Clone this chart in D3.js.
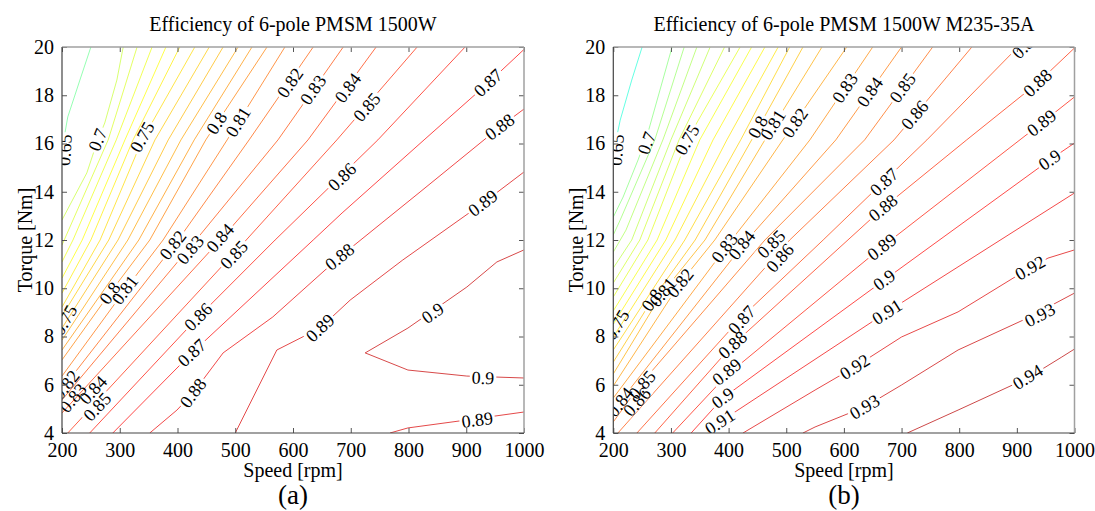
<!DOCTYPE html>
<html>
<head>
<meta charset="utf-8">
<script src="https://cdn.jsdelivr.net/npm/d3@7"></script>
<style>
  body { margin: 0; background: #fff; }
  svg text { font-family: "Liberation Serif", "Times New Roman", serif !important; fill: #000; }
</style>
</head>
<body>
<svg id="chart" width="1095" height="511"></svg>
<script>
// axis ticks
const speedTicks = [200, 300, 400, 500, 600, 700, 800, 900, 1000];
const torqueTicks = [4, 6, 8, 10, 12, 14, 16, 18, 20];

// panel (a): contour lines [level, [[speed, torque], ...]]
const linesA = [
  [0.65, [[250,20],[231,18.63],[210,17.10],[203,16.15],[200,15.11]]],
  [0.70, [[306,20],[295,18.63],[274,16.85],[262,16.15],[243,14.78],[200,12.83]]],
  [0.71, [[330,20],[280,16.15],[200,11.79]]],
  [0.72, [[356,20],[294,16.15],[219,12.0],[200,11.09]]],
  [0.73, [[380,20],[309,16.15],[235,12.0],[200,10.42]]],
  [0.74, [[404,20],[323,16.15],[250,12.0],[200,9.80]]],
  [0.75, [[430,20],[339,16.15],[266,12.0],[200,9.22]]],
  [0.76, [[455,20],[361,16.15],[281,12.0],[200,8.85]]],
  [0.77, [[479,20],[384,16.15],[297,12.0],[200,8.35]]],
  [0.78, [[505,20],[406,16.15],[314,12.0],[200,7.85]]],
  [0.79, [[529,20],[429,16.15],[333,12.0],[200,7.44]]],
  [0.80, [[555,20],[449,16.15],[352,12.0],[283,9.80],[200,7.03]]],
  [0.81, [[586,20],[486,16.15],[375,12.0],[309,9.93],[200,6.36]]],
  [0.82, [[635,20],[524,16.15],[401,12.0],[200,5.82]]],
  [0.83, [[687,20],[574,16.15],[432,12.0],[200,5.37]]],
  [0.84, [[744,20],[626,16.15],[474,12.0],[200,4.83]]],
  [0.85, [[815,20],[676,16.15],[519,12.0],[210,4.0]]],
  [0.86, [[898,20],[747,16.15],[569,12.0],[436,8.81],[248,4.0]]],
  [0.87, [[1000,19.9],[938,18.51],[827,16.15],[685,13.12],[635,12.0],[425,7.32],[288,4.0]]],
  [0.88, [[1000,17.43],[958,16.68],[820,13.99],[681,11.30],[565,8.81],[479,7.32],[427,5.66],[399,4.95],[352,4.0]]],
  [0.89, [[1000,14.82],[929,13.53],[790,11.17],[699,9.51],[647,8.35],[572,7.44],[500,4.0]]],
  [0.89, [[768,4.0],[799,4.21],[901,4.54],[1000,4.87]]],
  [0.90, [[1000,11.59],[953,11.09],[901,10.05],[799,8.35],[725,7.32],[799,6.61],[901,6.36],[1000,6.28]]]
];
// panel (a): inline labels [level, speed, torque]
const labelsA = [
  [0.65,205,15.73],[0.7,262,16.15],[0.75,339,16.27],[0.75,205,8.68],
  [0.8,468,16.85],[0.81,505,16.89],[0.82,595,18.51],[0.83,635,18.22],
  [0.84,695,18.30],[0.85,728,17.51],[0.86,685,14.61],[0.87,938,18.51],
  [0.88,958,16.68],[0.89,929,13.53],[0.82,392,11.79],[0.83,422,11.59],
  [0.84,474,12.08],[0.85,498,11.38],[0.8,283,9.80],[0.81,309,9.93],
  [0.86,436,8.81],[0.87,425,7.32],[0.88,427,5.66],[0.88,681,11.30],
  [0.89,647,8.35],[0.9,842,8.97],[0.9,929,6.28],[0.89,919,4.54],
  [0.84,254,5.78],[0.85,261,5.08],[0.82,207,5.99],[0.83,219,5.45]
];

// panel (b)
const linesB = [
  [0.65, [[250,20],[232,18.63],[212,16.97],[203,15.94],[200,15.11]]],
  [0.70, [[302,20],[281,18.22],[260,16.44],[243,15.32],[217,13.78],[200,12.95]]],
  [0.71, [[323,20],[272,16.15],[212,12.83],[200,12.21]]],
  [0.72, [[345,20],[286,16.15],[222,12.41],[200,11.50]]],
  [0.73, [[368,20],[300,16.15],[232,12.0],[200,10.84]]],
  [0.74, [[393,20],[314,16.15],[246,12.0],[200,10.22]]],
  [0.75, [[420,20],[328,16.15],[260,12.0],[200,9.64]]],
  [0.76, [[440,20],[350,16.15],[276,12.0],[200,9.06]]],
  [0.77, [[463,20],[373,16.15],[291,12.0],[200,8.52]]],
  [0.78, [[486,20],[397,16.15],[307,12.0],[200,7.98]]],
  [0.79, [[506,20],[421,16.15],[324,12.0],[200,7.44]]],
  [0.80, [[529,20],[440,16.15],[342,12.0],[267,9.51],[200,6.94]]],
  [0.81, [[562,20],[463,16.15],[359,12.0],[286,9.84],[200,6.45]]],
  [0.82, [[605,20],[494,16.15],[376,12.0],[316,10.22],[200,5.95]]],
  [0.83, [[650,20],[541,16.15],[405,12.0],[200,5.45]]],
  [0.84, [[700,20],[586,16.15],[432,12.0],[200,4.95]]],
  [0.85, [[754,20],[636,16.15],[463,12.0],[246,5.99],[200,4.46]]],
  [0.86, [[822,20],[687,16.15],[506,12.0],[208,4.0]]],
  [0.87, [[902,20],[744,16.15],[564,12.0],[423,8.81],[241,4.0]]],
  [0.88, [[1000,19.96],[936,18.51],[813,16.15],[668,13.33],[407,7.65],[272,4.0]]],
  [0.89, [[1000,17.93],[943,16.85],[666,11.71],[397,6.40],[303,4.0]]],
  [0.90, [[1000,16.02],[957,15.32],[670,10.34],[390,5.45],[335,4.0]]],
  [0.91, [[1000,13.95],[675,9.02],[385,4.46],[368,4.0]]],
  [0.92, [[1000,11.59],[954,11.25],[897,10.47],[798,9.02],[700,7.98],[619,6.74],[550,5.78],[425,4.0]]],
  [0.93, [[1000,9.80],[919,8.77],[798,7.44],[700,5.99],[636,5.08],[550,4.25],[529,4.0]]],
  [0.94, [[1000,7.48],[978,7.15],[919,6.28],[798,4.95],[710,4.0]]]
];
const labelsB = [
  [0.65,206,15.73],[0.7,258,16.02],[0.75,328,16.15],[0.75,206,8.48],
  [0.8,451,16.68],[0.81,477,16.77],[0.82,515,16.85],[0.83,602,18.30],
  [0.84,645,18.13],[0.85,702,18.30],[0.86,723,17.18],[0.87,916,20.1],
  [0.88,936,18.51],[0.89,943,16.85],[0.9,957,15.32],[0.87,670,14.40],
  [0.88,668,13.33],[0.89,666,11.71],[0.92,923,10.84],[0.9,670,10.34],
  [0.91,675,9.02],[0.93,940,8.89],[0.92,619,6.74],[0.94,919,6.32],
  [0.93,636,5.08],[0.8,267,9.51],[0.81,286,9.84],[0.82,316,10.22],
  [0.83,393,11.67],[0.84,423,11.79],[0.85,474,11.83],[0.86,489,11.25],
  [0.87,423,8.68],[0.88,407,7.65],[0.89,397,6.53],[0.9,390,5.45],
  [0.91,385,4.46],[0.84,212,5.28],[0.85,250,5.99],[0.86,241,5.28]
];

// colour limits of the colormap for each panel
const colorDomainA = [0.383, 0.939];
const colorDomainB = [0.425, 0.970];

const svg = d3.select("#chart");
const defs = svg.append("defs");

function jet(p) {
  const c = v => Math.max(0, Math.min(1, v));
  const r = c(Math.min(4 * p - 1.5, -4 * p + 4.5));
  const g = c(Math.min(4 * p - 0.5, -4 * p + 3.5));
  const b = c(Math.min(4 * p + 0.5, -4 * p + 2.5));
  return d3.rgb(r * 255, g * 255, b * 255).formatHex();
}

function drawPanel(id, left, right, lines, labels, cDomain, title, tag) {
  const top = 47, bottom = 433;
  const x = d3.scaleLinear().domain([200, 1000]).range([left, right]);
  const y = d3.scaleLinear().domain([4, 20]).range([bottom, top]);
  const color = lv => jet((lv - cDomain[0]) / (cDomain[1] - cDomain[0]));
  const path = d3.line().x(d => x(d[0])).y(d => y(d[1]));

  defs.append("clipPath").attr("id", "clip-" + id)
    .append("rect").attr("x", left).attr("y", top)
    .attr("width", right - left).attr("height", bottom - top);

  const plot = svg.append("g").attr("clip-path", `url(#clip-${id})`);
  const lineG = plot.append("g");
  const labelG = plot.append("g");

  // label placement: angle from nearest segment of same level
  const labs = labels.map(([lv, s, t]) => {
    const px = x(s), py = y(t);
    let best = Infinity, ang = 0;
    lines.filter(l => l[0] === lv).forEach(l => {
      const pts = l[1].map(d => [x(d[0]), y(d[1])]);
      for (let i = 0; i < pts.length - 1; i++) {
        const [ax, ay] = pts[i], [bx, by] = pts[i + 1];
        const dx = bx - ax, dy = by - ay;
        const len2 = dx * dx + dy * dy || 1;
        let u = ((px - ax) * dx + (py - ay) * dy) / len2;
        u = Math.max(0, Math.min(1, u));
        const qx = ax + u * dx - px, qy = ay + u * dy - py;
        const dist = qx * qx + qy * qy;
        if (dist < best) { best = dist; ang = Math.atan2(dy, dx) * 180 / Math.PI; }
      }
    });
    if (ang > 90) ang -= 180;
    if (ang < -90) ang += 180;
    return { lv, px, py, ang };
  });

  labs.forEach(d => {
    d.node = labelG.append("text")
      .attr("transform", `translate(${d.px},${d.py}) rotate(${d.ang})`)
      .attr("text-anchor", "middle")
      .attr("dominant-baseline", "central")
      .attr("font-size", 18)
      .text(String(d.lv));
    d.w = d.node.node().getComputedTextLength();
  });

  lines.forEach((l, i) => {
    const mid = `mask-${id}-${i}`;
    const m = defs.append("mask").attr("id", mid).attr("maskUnits", "userSpaceOnUse")
      .attr("x", 0).attr("y", 0).attr("width", 1095).attr("height", 511);
    m.append("rect").attr("x", 0).attr("y", 0).attr("width", 1095).attr("height", 511).attr("fill", "#fff");
    labs.filter(d => d.lv === l[0]).forEach(d => {
      m.append("rect")
        .attr("x", -d.w / 2 - 2).attr("y", -6).attr("width", d.w + 4).attr("height", 12)
        .attr("transform", `translate(${d.px},${d.py}) rotate(${d.ang})`)
        .attr("fill", "#000");
    });
    lineG.append("path")
      .attr("d", path(l[1]))
      .attr("fill", "none")
      .attr("stroke", color(l[0]))
      .attr("stroke-opacity", 0.8)
      .attr("stroke-width", 0.9)
      .attr("mask", `url(#${mid})`);
  });

  // axes with inward ticks
  const ax = svg.append("g");
  ax.append("g").attr("transform", `translate(0,${bottom})`)
    .call(d3.axisBottom(x).tickValues(speedTicks).tickSize(-5).tickPadding(10).tickFormat(d3.format("d")));
  ax.append("g").attr("transform", `translate(${left},0)`)
    .call(d3.axisLeft(y).tickValues(torqueTicks).tickSize(-5).tickPadding(8).tickFormat(d3.format("d")));
  ax.append("g").attr("transform", `translate(0,${top})`)
    .call(d3.axisTop(x).tickValues(speedTicks).tickSize(-5).tickFormat(""));
  ax.append("g").attr("transform", `translate(${right},0)`)
    .call(d3.axisRight(y).tickValues(torqueTicks).tickSize(-5).tickFormat(""));
  ax.selectAll(".domain").remove();
  ax.selectAll("g").attr("font-family", null);
  ax.selectAll(".tick line").attr("stroke", "#555");
  ax.selectAll(".tick text").attr("font-size", 20).attr("fill", "#000");

  ax.append("line").attr("x1", left).attr("x2", right).attr("y1", top).attr("y2", top)
    .attr("stroke", "#a0a0a0").attr("stroke-width", 1.5);
  ax.append("line").attr("x1", right).attr("x2", right).attr("y1", top).attr("y2", bottom)
    .attr("stroke", "#a0a0a0").attr("stroke-width", 1.5);
  ax.append("line").attr("x1", left).attr("x2", left).attr("y1", top).attr("y2", bottom)
    .attr("stroke", "#444").attr("stroke-width", 1.2);
  ax.append("line").attr("x1", left).attr("x2", right).attr("y1", bottom).attr("y2", bottom)
    .attr("stroke", "#444").attr("stroke-width", 1.2);

  const cx = (left + right) / 2;
  svg.append("text").attr("x", cx).attr("y", 31).attr("text-anchor", "middle")
    .attr("font-size", 20).text(title);
  svg.append("text").attr("x", cx).attr("y", 477).attr("text-anchor", "middle")
    .attr("font-size", 20).text("Speed [rpm]");
  svg.append("text").attr("transform", `translate(${left - 30},${(top + bottom) / 2}) rotate(-90)`)
    .attr("text-anchor", "middle").attr("font-size", 20).text("Torque [Nm]");
  svg.append("text").attr("x", cx).attr("y", 504).attr("text-anchor", "middle")
    .attr("font-size", 27).text(tag);
}

drawPanel("a", 62, 524, linesA, labelsA, colorDomainA, "Efficiency of 6-pole PMSM 1500W", "(a)");
drawPanel("b", 613.3, 1074.5, linesB, labelsB, colorDomainB, "Efficiency of 6-pole PMSM 1500W M235-35A", "(b)");
</script>
</body>
</html>
